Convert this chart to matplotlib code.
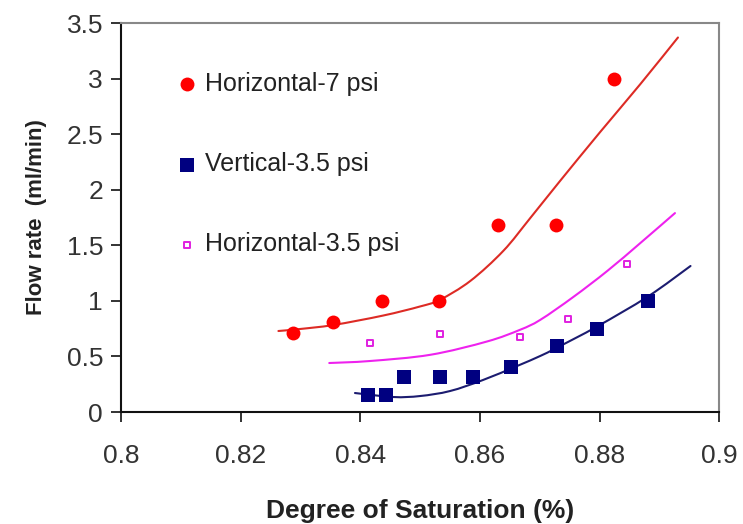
import numpy as np
import matplotlib
matplotlib.use("Agg")
import matplotlib.pyplot as plt
from matplotlib.path import Path
from matplotlib.patches import PathPatch

plt.rcParams['font.family'] = ['Liberation Sans', 'DejaVu Sans']

h7_x = [0.8288, 0.8355, 0.8437, 0.8532, 0.8630, 0.8727, 0.8824]
h7_y = [0.71, 0.81, 1.00, 1.00, 1.68, 1.68, 3.00]

v35_x = [0.8413, 0.8443, 0.8473, 0.8533, 0.8589, 0.8652, 0.8729, 0.8796, 0.8881]
v35_y = [0.15, 0.15, 0.315, 0.315, 0.315, 0.405, 0.594, 0.745, 1.00]

h35_x = [0.8416, 0.8533, 0.8667, 0.8747, 0.8845]
h35_y = [0.62, 0.70, 0.675, 0.837, 1.33]

# Trend curves
h7_fit_x = [0.8263, 0.8299, 0.8355, 0.8438, 0.8500, 0.8533, 0.8584, 0.8639,
            0.8684, 0.8734, 0.8801, 0.8868, 0.8931]
h7_fit_y = [0.729, 0.747, 0.783, 0.868, 0.950, 1.010, 1.180, 1.450,
            1.745, 2.080, 2.520, 2.950, 3.370]

h35_fit_x = [0.8348, 0.8416, 0.8517, 0.8612, 0.8667, 0.8701, 0.8756, 0.8813,
             0.8868, 0.8926]
h35_fit_y = [0.441, 0.459, 0.515, 0.635, 0.740, 0.830, 1.035, 1.270,
             1.520, 1.790]

v35_fit_x = [0.8391, 0.8455, 0.8500, 0.8550, 0.8605, 0.8662, 0.8701, 0.8729,
             0.8796, 0.8881, 0.8952]
v35_fit_y = [0.171, 0.135, 0.144, 0.189, 0.288, 0.414, 0.505, 0.580,
             0.770, 1.040, 1.314]

labels = ['Horizontal-7 psi', 'Vertical-3.5 psi', 'Horizontal-3.5 psi']
xticks = [0.8, 0.82, 0.84, 0.86, 0.88, 0.9]
xtick_labels = ['0.8', '0.82', '0.84', '0.86', '0.88', '0.9']
yticks = [0, 0.5, 1, 1.5, 2, 2.5, 3, 3.5]
ytick_labels = ['0', '0.5', '1', '1.5', '2', '2.5', '3', '3.5']

fig = plt.figure(figsize=(7.43, 5.24), dpi=100)
ax = fig.add_axes([0.163, 0.2137, 0.805, 0.7423])

red = '#ff0000'
navy = '#000080'
mag = '#e020e0'


def smooth_curve(xs, ys, color):
    """Draw a smooth Bezier path through the traced points (Catmull-Rom handles)."""
    pts = np.column_stack([xs, ys]).astype(float)
    n = len(pts)
    verts = [tuple(pts[0])]
    codes = [Path.MOVETO]
    for i in range(n - 1):
        p0 = pts[i - 1] if i > 0 else pts[i]
        p1 = pts[i]
        p2 = pts[i + 1]
        p3 = pts[i + 2] if i + 2 < n else pts[i + 1]
        c1 = p1 + (p2 - p0) / 6.0
        c2 = p2 - (p3 - p1) / 6.0
        verts += [tuple(c1), tuple(c2), tuple(p2)]
        codes += [Path.CURVE4, Path.CURVE4, Path.CURVE4]
    patch = PathPatch(Path(verts, codes), facecolor='none', edgecolor=color,
                      lw=1.5, zorder=2, capstyle='round', joinstyle='round')
    ax.add_patch(patch)


smooth_curve(h7_fit_x, h7_fit_y, '#dd2b25')
smooth_curve(h35_fit_x, h35_fit_y, '#ee22ee')
smooth_curve(v35_fit_x, v35_fit_y, '#1c1c70')

ax.scatter(h7_x, h7_y, s=100, marker='o', color=red, linewidths=0, zorder=3, label=labels[0])
ax.scatter(v35_x, v35_y, s=92, marker='s', color=navy, linewidths=0, zorder=3, label=labels[1])
ax.scatter(h35_x, h35_y, s=22, marker='s', facecolor='white', edgecolor=mag,
           linewidths=1.4, zorder=3, label=labels[2])

ax.set_xlim(0.8, 0.9)
ax.set_ylim(0, 3.5)
ax.set_xticks(xticks)
ax.set_xticklabels(xtick_labels)
ax.set_yticks(yticks)
ax.set_yticklabels(ytick_labels)
ax.tick_params(axis='both', direction='out', length=7, width=1.2, labelsize=19,
               color='#111111', labelcolor='#333333', pad=6)
ax.tick_params(axis='x', pad=16)

for s in ['left', 'bottom']:
    ax.spines[s].set_color('#111111')
    ax.spines[s].set_linewidth(1.5)
for s in ['top', 'right']:
    ax.spines[s].set_color('#888888')
    ax.spines[s].set_linewidth(1.5)

ax.set_xlabel('Degree of Saturation (%)', fontsize=19, fontweight='bold',
              labelpad=22, color='#222222')
ax.set_ylabel('Flow rate  (ml/min)', fontsize=16, fontweight='bold',
              labelpad=14, color='#222222')

leg = ax.legend(loc='upper left', bbox_to_anchor=(0.072, 0.9), frameon=False,
                fontsize=18, labelspacing=2.25, handletextpad=0.25, handlelength=1.0,
                borderaxespad=0, scatterpoints=1)
for t in leg.get_texts():
    t.set_color('#222222')

fig.savefig('out.png', dpi=100)
